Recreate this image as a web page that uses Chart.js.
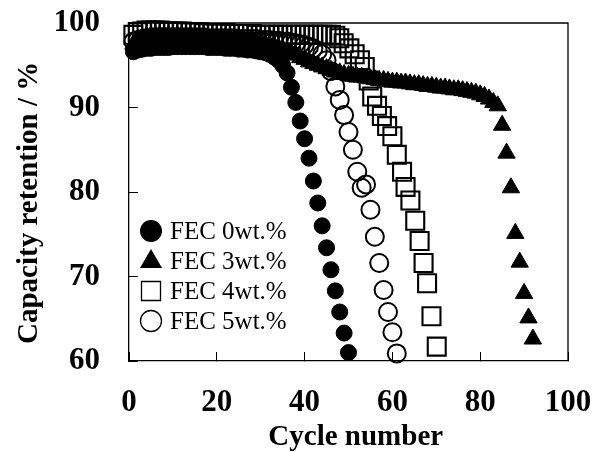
<!DOCTYPE html>
<html>
<head>
<meta charset="utf-8">
<script src="https://cdn.jsdelivr.net/npm/chart.js@4.4.0/dist/chart.umd.min.js"></script>
<style>
  html, body { margin: 0; padding: 0; background: #fff; }
</style>
</head>
<body>
<canvas id="retentionChart" width="593" height="452"></canvas>
<script>
// FEC 0wt.% (filled circles)
const cycles0 = [1, 2, 3, 4, 5, 6, 7, 8, 9, 10, 11, 12, 13, 14, 15, 16, 17, 18, 19, 20,
  21, 22, 23, 24, 25, 26, 27, 28, 29, 30, 31, 32, 33, 34, 35, 36, 37, 38, 39, 40,
  41, 42, 43, 44, 45, 46, 47, 48, 49, 50];
const fec0 = [96.6, 96.8, 96.9, 97.0, 97.0, 97.1, 97.1, 97.1, 97.1, 97.2,
  97.2, 97.2, 97.2, 97.2, 97.2, 97.2, 97.2, 97.1, 97.1, 97.1,
  97.1, 97.0, 97.0, 97.0, 96.9, 96.9, 96.8, 96.8, 96.7, 96.6,
  96.5, 96.3, 96.0, 95.6, 95.0, 94.1, 92.4, 90.6, 88.4, 86.3,
  84.0, 81.3, 78.7, 76.0, 73.4, 70.8, 68.3, 65.8, 63.3, 61.0];

// FEC 3wt.% (filled triangles)
const cycles3 = [1, 2, 3, 4, 5, 6, 7, 8, 9, 10, 11, 12, 13, 14, 15, 16, 17, 18, 19, 20,
  21, 22, 23, 24, 25, 26, 27, 28, 29, 30, 31, 32, 33, 34, 35, 36, 37, 38, 39, 40,
  41, 42, 43, 44, 45, 46, 47, 48, 49, 50, 51, 52, 53, 54, 55, 56, 57, 58, 59, 60,
  61, 62, 63, 64, 65, 66, 67, 68, 69, 70, 71, 72, 73, 74, 75, 76, 77, 78, 79, 80,
  81, 82, 83, 84, 85, 86, 87, 88, 89, 90, 91, 92];
const fec3 = [97.5, 98.0, 98.3, 98.4, 98.5, 98.5, 98.5, 98.5, 98.5, 98.5,
  98.5, 98.5, 98.4, 98.4, 98.4, 98.3, 98.3, 98.3, 98.2, 98.2,
  98.2, 98.1, 98.1, 98.0, 98.0, 97.9, 97.8, 97.8, 97.7, 97.6,
  97.5, 97.4, 97.3, 97.1, 96.9, 96.7, 96.4, 96.2, 95.9, 95.7,
  95.4, 95.2, 95.0, 94.8, 94.6, 94.4, 94.2, 94.1, 93.9, 93.8,
  93.7, 93.6, 93.6, 93.5, 93.4, 93.3, 93.2, 93.2, 93.1, 93.0,
  93.0, 92.9, 92.9, 92.8, 92.7, 92.7, 92.6, 92.5, 92.5, 92.4,
  92.3, 92.3, 92.2, 92.1, 92.1, 92.0, 91.9, 91.8, 91.7, 91.5,
  91.3, 91.0, 90.6, 90.2, 87.9, 84.6, 80.5, 75.1, 71.7, 68.0, 65.1, 62.6];

// FEC 4wt.% (open squares)
const cycles4 = [1, 2, 3, 4, 5, 6, 7, 8, 9, 10, 11, 12, 13, 14, 15, 16, 17, 18, 19, 20,
  21, 22, 23, 24, 25, 26, 27, 28, 29, 30, 31, 32, 33, 34, 35, 36, 37, 38, 39, 40,
  41, 42, 43, 44, 45, 46, 47, 47.9, 48.9, 50.2, 51.4, 52.6, 53.7, 54.6, 55.4, 56.5,
  57.6, 58.8, 60.0, 61.0, 62.2, 63.0, 64.1, 65.2, 66.2, 67.1, 67.9, 68.9, 70.1];
const fec4 = [98.6, 98.9, 99.0, 99.1, 99.1, 99.1, 99.1, 99.0, 99.0, 99.0,
  99.0, 99.0, 98.9, 98.9, 98.9, 98.9, 98.8, 98.8, 98.8, 98.8,
  98.8, 98.8, 98.7, 98.7, 98.7, 98.7, 98.7, 98.7, 98.6, 98.6,
  98.6, 98.6, 98.6, 98.6, 98.6, 98.6, 98.6, 98.6, 98.6, 98.6,
  98.6, 98.6, 98.6, 98.6, 98.6, 98.6, 98.5, 98.2, 97.6, 97.0, 96.3, 95.6, 94.8, 93.2, 91.3, 90.2,
  89.0, 87.8, 86.6, 84.4, 82.4, 80.6, 79.0, 76.6, 74.2, 71.6, 69.2, 65.3, 61.7];

// FEC 5wt.% (open circles)
const cycles5 = [1, 2, 3, 4, 5, 6, 7, 8, 9, 10, 11, 12, 13, 14, 15, 16, 17, 18, 19, 20,
  21, 22, 23, 24, 25, 26, 27, 28, 29, 30, 31, 32, 33, 34, 35, 36, 37, 38, 39, 40,
  41, 42, 43, 44, 45, 46, 47, 48, 49, 50, 51, 52, 53, 54, 55, 56, 57, 58, 59, 60, 61];
const fec5 = [97.8, 98.0, 98.1, 98.2, 98.2, 98.3, 98.3, 98.3, 98.3, 98.3,
  98.3, 98.3, 98.3, 98.3, 98.3, 98.3, 98.3, 98.2, 98.2, 98.2,
  98.2, 98.2, 98.2, 98.2, 98.1, 98.1, 98.1, 98.1, 98.1, 98.0,
  98.0, 98.0, 97.9, 97.9, 97.8, 97.8, 97.7, 97.6, 97.5, 97.4,
  97.2, 97.0, 96.7, 96.3, 95.6, 94.3, 92.5, 90.9, 89.1, 87.1,
  85.0, 82.4, 80.5, 80.9, 77.9, 74.7, 71.6, 68.4, 65.8, 63.4, 60.9];

const seriesLabels = ['FEC 0wt.%', 'FEC 3wt.%', 'FEC 4wt.%', 'FEC 5wt.%'];
const xTitle = '\u00a0\u00a0Cycle number';
const yTitle = 'Capacity retention / %\u00a0\u00a0\u00a0';

const serif = "'Liberation Serif', 'Times New Roman', serif";
const noFill = 'rgba(0,0,0,0)';

function toPoints(xs, ys) {
  return xs.map((x, i) => ({ x: x, y: ys[i] }));
}

// 枠線（上と右）
const frameLines = {
  id: 'frameLines',
  beforeDatasetsDraw(chart) {
    const { ctx, chartArea } = chart;
    ctx.save();
    ctx.strokeStyle = '#000';
    ctx.lineWidth = 1.3;
    ctx.beginPath();
    ctx.moveTo(chartArea.left, chartArea.top);
    ctx.lineTo(chartArea.right, chartArea.top);
    ctx.lineTo(chartArea.right, chartArea.bottom);
    ctx.stroke();
    ctx.restore();
  }
};

function drawLegendMarker(ctx, style, filled, x, y) {
  ctx.beginPath();
  if (style === 'triangle') {
    ctx.moveTo(x, y - 12);
    ctx.lineTo(x + 11, y + 7);
    ctx.lineTo(x - 11, y + 7);
    ctx.closePath();
  } else if (style === 'rect') {
    ctx.rect(x - 9.5, y - 9.5, 19, 19);
  } else {
    ctx.arc(x, y, filled ? 11 : 10.5, 0, Math.PI * 2);
  }
  if (filled) {
    ctx.fill();
  } else {
    ctx.lineWidth = 1.3;
    ctx.stroke();
  }
}

// グラフ内の凡例
const insideLegend = {
  id: 'insideLegend',
  afterDraw(chart) {
    const ctx = chart.ctx;
    ctx.save();
    ctx.font = '25px ' + serif;
    ctx.textBaseline = 'middle';
    ctx.fillStyle = '#000';
    ctx.strokeStyle = '#000';
    chart.data.datasets.forEach((ds, i) => {
      const y = 231 + i * 30;
      drawLegendMarker(ctx, ds.pointStyle, ds.backgroundColor !== noFill, 151, y);
      ctx.fillText(ds.label, 170, y + 1);
    });
    ctx.restore();
  }
};

const chartElement = document.getElementById('retentionChart');
const retentionChart = new Chart(chartElement, {
  type: 'scatter',
  data: {
    datasets: [
      {
        label: seriesLabels[0],
        data: toPoints(cycles0, fec0),
        pointStyle: 'circle',
        pointRadius: 8,
        backgroundColor: '#000',
        borderColor: '#000',
        borderWidth: 1,
        order: 2,
        clip: false
      },
      {
        label: seriesLabels[1],
        data: toPoints(cycles3, fec3),
        pointStyle: 'triangle',
        pointRadius: 10,
        backgroundColor: '#000',
        borderColor: '#000',
        borderWidth: 1,
        order: 1,
        clip: false
      },
      {
        label: seriesLabels[2],
        data: toPoints(cycles4, fec4),
        pointStyle: 'rect',
        pointRadius: 12.7,
        backgroundColor: noFill,
        borderColor: '#000',
        borderWidth: 2.1,
        order: 4,
        clip: false
      },
      {
        label: seriesLabels[3],
        data: toPoints(cycles5, fec5),
        pointStyle: 'circle',
        pointRadius: 9,
        backgroundColor: noFill,
        borderColor: '#000',
        borderWidth: 2,
        order: 3,
        clip: false
      }
    ]
  },
  options: {
    responsive: false,
    animation: false,
    layout: {
      padding: { left: 0, top: 23, right: 25, bottom: 0 }
    },
    scales: {
      x: {
        type: 'linear',
        min: 0,
        max: 100,
        afterFit: (scale) => {
          scale.height = 91;
          scale.paddingLeft = 0;
          scale.paddingRight = 0;
        },
        grid: { drawOnChartArea: false, drawTicks: true, tickLength: -9, color: '#000', lineWidth: 1 },
        border: { color: '#000', width: 1.3 },
        ticks: {
          stepSize: 20,
          padding: 32,
          maxRotation: 0,
          color: '#000',
          font: { family: serif, size: 31, weight: 'bold' }
        },
        title: {
          display: true,
          text: xTitle,
          color: '#000',
          padding: { top: 0, bottom: 0 },
          font: { family: serif, size: 29, weight: 'bold', lineHeight: 1 }
        }
      },
      y: {
        min: 60,
        max: 100,
        afterFit: (scale) => {
          scale.width = 129;
          scale.paddingTop = 0;
          scale.paddingBottom = 0;
        },
        grid: { drawOnChartArea: false, drawTicks: true, tickLength: -9, color: '#000', lineWidth: 1 },
        border: { color: '#000', width: 1.3 },
        ticks: {
          stepSize: 10,
          padding: 38,
          color: '#000',
          font: { family: serif, size: 31, weight: 'bold' }
        },
        title: {
          display: true,
          text: yTitle,
          color: '#000',
          padding: { top: 12, bottom: 0 },
          font: { family: serif, size: 29, weight: 'bold' }
        }
      }
    },
    plugins: {
      legend: { display: false },
      tooltip: { enabled: false }
    }
  },
  plugins: [frameLines, insideLegend]
});
</script>
</body>
</html>
